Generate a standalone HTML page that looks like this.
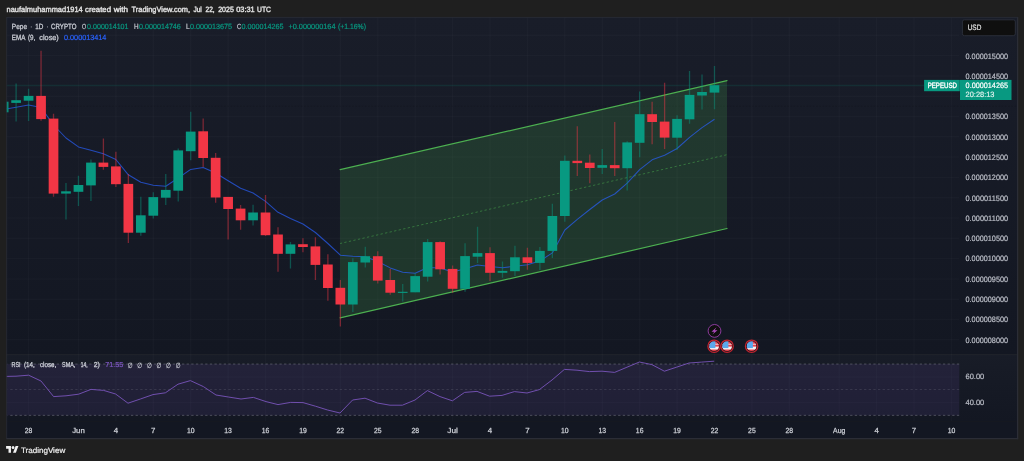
<!DOCTYPE html>
<html lang="en"><head><meta charset="utf-8"><title>Pepe 1D chart - TradingView</title>
<style>html,body{margin:0;padding:0;background:#1f1f1f;overflow:hidden}svg{display:block;filter:blur(0.5px)}</style>
</head><body>
<svg width="1024" height="461" viewBox="0 0 1024 461" font-family='"Liberation Sans", "DejaVu Sans", sans-serif' text-rendering="geometricPrecision">
<defs>
<linearGradient id="g1" x1="0" y1="0" x2="0" y2="1"><stop offset="0" stop-color="#191d29"/><stop offset="1" stop-color="#131722"/></linearGradient>
<linearGradient id="g2" x1="0" y1="0" x2="0" y2="1"><stop offset="0" stop-color="#181c27"/><stop offset="1" stop-color="#131722"/></linearGradient>
<clipPath id="plot"><rect x="6.5" y="17.2" width="952.8" height="337.5"/></clipPath>
<clipPath id="fc"><circle r="4.85"/></clipPath>
</defs>
<rect width="1024" height="461" fill="#1f1f1f"/>
<rect x="6.5" y="17.2" width="1011.0" height="337.5" fill="url(#g1)"/>
<rect x="6.5" y="354.7" width="1011.0" height="66.60000000000002" fill="url(#g2)"/>
<rect x="6.5" y="421.3" width="1011.0" height="17.0" fill="#131722"/>
<g stroke="#ffffff" stroke-opacity="0.021" stroke-width="1.5">
<line x1="28.58" y1="17.2" x2="28.58" y2="421.3"/>
<line x1="78.46" y1="17.2" x2="78.46" y2="421.3"/>
<line x1="115.88" y1="17.2" x2="115.88" y2="421.3"/>
<line x1="153.29" y1="17.2" x2="153.29" y2="421.3"/>
<line x1="190.70" y1="17.2" x2="190.70" y2="421.3"/>
<line x1="228.12" y1="17.2" x2="228.12" y2="421.3"/>
<line x1="265.53" y1="17.2" x2="265.53" y2="421.3"/>
<line x1="302.94" y1="17.2" x2="302.94" y2="421.3"/>
<line x1="340.35" y1="17.2" x2="340.35" y2="421.3"/>
<line x1="377.77" y1="17.2" x2="377.77" y2="421.3"/>
<line x1="415.18" y1="17.2" x2="415.18" y2="421.3"/>
<line x1="452.59" y1="17.2" x2="452.59" y2="421.3"/>
<line x1="490.01" y1="17.2" x2="490.01" y2="421.3"/>
<line x1="527.42" y1="17.2" x2="527.42" y2="421.3"/>
<line x1="564.83" y1="17.2" x2="564.83" y2="421.3"/>
<line x1="602.25" y1="17.2" x2="602.25" y2="421.3"/>
<line x1="639.66" y1="17.2" x2="639.66" y2="421.3"/>
<line x1="677.07" y1="17.2" x2="677.07" y2="421.3"/>
<line x1="714.49" y1="17.2" x2="714.49" y2="421.3"/>
<line x1="751.90" y1="17.2" x2="751.90" y2="421.3"/>
<line x1="789.31" y1="17.2" x2="789.31" y2="421.3"/>
<line x1="839.20" y1="17.2" x2="839.20" y2="421.3"/>
<line x1="876.61" y1="17.2" x2="876.61" y2="421.3"/>
<line x1="914.02" y1="17.2" x2="914.02" y2="421.3"/>
<line x1="951.43" y1="17.2" x2="951.43" y2="421.3"/>
<line x1="6.5" y1="35.30" x2="959.3" y2="35.30"/>
<line x1="6.5" y1="55.60" x2="959.3" y2="55.60"/>
<line x1="6.5" y1="75.90" x2="959.3" y2="75.90"/>
<line x1="6.5" y1="96.20" x2="959.3" y2="96.20"/>
<line x1="6.5" y1="116.50" x2="959.3" y2="116.50"/>
<line x1="6.5" y1="136.80" x2="959.3" y2="136.80"/>
<line x1="6.5" y1="157.10" x2="959.3" y2="157.10"/>
<line x1="6.5" y1="177.40" x2="959.3" y2="177.40"/>
<line x1="6.5" y1="197.70" x2="959.3" y2="197.70"/>
<line x1="6.5" y1="218.00" x2="959.3" y2="218.00"/>
<line x1="6.5" y1="238.30" x2="959.3" y2="238.30"/>
<line x1="6.5" y1="258.60" x2="959.3" y2="258.60"/>
<line x1="6.5" y1="278.90" x2="959.3" y2="278.90"/>
<line x1="6.5" y1="299.20" x2="959.3" y2="299.20"/>
<line x1="6.5" y1="319.50" x2="959.3" y2="319.50"/>
<line x1="6.5" y1="339.80" x2="959.3" y2="339.80"/>
<line x1="6.5" y1="376.90" x2="959.3" y2="376.90"/>
<line x1="6.5" y1="402.40" x2="959.3" y2="402.40"/>
</g>
<line x1="6.5" y1="106.2" x2="1017.5" y2="106.2" stroke="#000000" stroke-opacity="0.13" stroke-width="1" stroke-dasharray="1.6 1.6"/>
<line x1="6.5" y1="354.7" x2="1017.5" y2="354.7" stroke="#ffffff" stroke-opacity="0.045" stroke-width="1"/>
<g clip-path="url(#plot)">
<polygon points="340.1,169.7 727.0,80.7 727.0,228.5 340.1,317.9" fill="#4caf50" fill-opacity="0.2"/>
<line x1="340.1" y1="169.7" x2="727.0" y2="80.7" stroke="#4caf50" stroke-width="1.25" stroke-linecap="round"/>
<line x1="340.1" y1="317.9" x2="727.0" y2="228.5" stroke="#4caf50" stroke-width="1.25" stroke-linecap="round"/>
<line x1="340.1" y1="243.5" x2="727.0" y2="154.7" stroke="#4caf50" stroke-opacity="0.5" stroke-width="1" stroke-dasharray="2.32 2.32" stroke-dashoffset="0.3"/>
<line x1="6.5" y1="85.5" x2="924" y2="85.5" stroke="#089981" stroke-opacity="0.14" stroke-width="1.3"/>
<polyline points="3.64,109.50 16.11,107.30 28.58,104.90 41.05,107.50 53.52,125.00 65.99,138.00 78.46,146.90 90.94,150.30 103.41,153.70 115.88,159.50 128.35,174.80 140.82,182.30 153.29,185.20 165.76,186.30 178.23,178.00 190.70,169.40 203.17,167.50 215.64,173.00 228.12,180.70 240.59,188.20 253.06,193.00 265.53,201.40 278.00,212.30 290.47,218.50 302.94,224.00 315.41,232.50 327.88,243.50 340.35,255.20 352.83,256.30 365.30,256.80 377.77,261.50 390.24,267.90 402.71,272.20 415.18,273.20 427.65,267.50 440.12,268.00 452.59,272.00 465.06,268.70 477.54,265.00 490.01,266.50 502.48,267.70 514.95,266.30 527.42,264.80 539.89,261.00 552.36,252.90 564.83,230.00 577.30,219.30 589.78,209.50 602.25,200.00 614.72,194.00 627.19,183.20 639.66,169.60 652.13,159.80 664.60,155.30 677.07,148.50 689.54,137.30 702.01,127.60 714.49,119.30" fill="none" stroke="#2962ff" stroke-opacity="0.68" stroke-width="1.05" stroke-linejoin="round"/>
<line x1="3.64" y1="101.7" x2="3.64" y2="112.3" stroke="#089981" stroke-opacity="0.46" stroke-width="1.3"/>
<rect x="-1.21" y="101.7" width="9.7" height="10.60" fill="#089981"/>
<line x1="16.11" y1="83.4" x2="16.11" y2="121.6" stroke="#089981" stroke-opacity="0.46" stroke-width="1.3"/>
<rect x="11.26" y="100.2" width="9.7" height="2.70" fill="#089981"/>
<line x1="28.58" y1="88.8" x2="28.58" y2="121" stroke="#089981" stroke-opacity="0.46" stroke-width="1.3"/>
<rect x="23.73" y="95.9" width="9.7" height="4.80" fill="#089981"/>
<line x1="41.05" y1="50.7" x2="41.05" y2="120.7" stroke="#f23645" stroke-opacity="0.46" stroke-width="1.3"/>
<rect x="36.20" y="95.9" width="9.7" height="23.20" fill="#f23645"/>
<line x1="53.52" y1="113.8" x2="53.52" y2="196.7" stroke="#f23645" stroke-opacity="0.46" stroke-width="1.3"/>
<rect x="48.67" y="118.6" width="9.7" height="75.00" fill="#f23645"/>
<line x1="65.99" y1="183" x2="65.99" y2="219.6" stroke="#089981" stroke-opacity="0.46" stroke-width="1.3"/>
<rect x="61.14" y="191.3" width="9.7" height="2.30" fill="#089981"/>
<line x1="78.46" y1="175.7" x2="78.46" y2="205.9" stroke="#089981" stroke-opacity="0.46" stroke-width="1.3"/>
<rect x="73.61" y="185" width="9.7" height="6.80" fill="#089981"/>
<line x1="90.94" y1="159.6" x2="90.94" y2="201" stroke="#089981" stroke-opacity="0.46" stroke-width="1.3"/>
<rect x="86.09" y="162.6" width="9.7" height="22.80" fill="#089981"/>
<line x1="103.41" y1="138.5" x2="103.41" y2="169.8" stroke="#f23645" stroke-opacity="0.46" stroke-width="1.3"/>
<rect x="98.56" y="162.6" width="9.7" height="4.30" fill="#f23645"/>
<line x1="115.88" y1="151.8" x2="115.88" y2="186.9" stroke="#f23645" stroke-opacity="0.46" stroke-width="1.3"/>
<rect x="111.03" y="166.4" width="9.7" height="17.80" fill="#f23645"/>
<line x1="128.35" y1="174.1" x2="128.35" y2="243" stroke="#f23645" stroke-opacity="0.46" stroke-width="1.3"/>
<rect x="123.50" y="183.9" width="9.7" height="48.80" fill="#f23645"/>
<line x1="140.82" y1="196.7" x2="140.82" y2="235.8" stroke="#089981" stroke-opacity="0.46" stroke-width="1.3"/>
<rect x="135.97" y="215.3" width="9.7" height="17.40" fill="#089981"/>
<line x1="153.29" y1="192.2" x2="153.29" y2="218.6" stroke="#089981" stroke-opacity="0.46" stroke-width="1.3"/>
<rect x="148.44" y="197.1" width="9.7" height="18.60" fill="#089981"/>
<line x1="165.76" y1="174.1" x2="165.76" y2="205" stroke="#089981" stroke-opacity="0.46" stroke-width="1.3"/>
<rect x="160.91" y="189.9" width="9.7" height="7.80" fill="#089981"/>
<line x1="178.23" y1="148.4" x2="178.23" y2="201.4" stroke="#089981" stroke-opacity="0.46" stroke-width="1.3"/>
<rect x="173.38" y="150.4" width="9.7" height="40.30" fill="#089981"/>
<line x1="190.70" y1="111.7" x2="190.70" y2="160.2" stroke="#089981" stroke-opacity="0.46" stroke-width="1.3"/>
<rect x="185.85" y="131.6" width="9.7" height="19.60" fill="#089981"/>
<line x1="203.17" y1="118.6" x2="203.17" y2="167" stroke="#f23645" stroke-opacity="0.46" stroke-width="1.3"/>
<rect x="198.32" y="131.3" width="9.7" height="26.70" fill="#f23645"/>
<line x1="215.64" y1="152.9" x2="215.64" y2="202.7" stroke="#f23645" stroke-opacity="0.46" stroke-width="1.3"/>
<rect x="210.79" y="157.8" width="9.7" height="39.70" fill="#f23645"/>
<line x1="228.12" y1="196.9" x2="228.12" y2="239.5" stroke="#f23645" stroke-opacity="0.46" stroke-width="1.3"/>
<rect x="223.27" y="196.9" width="9.7" height="12.10" fill="#f23645"/>
<line x1="240.59" y1="205" x2="240.59" y2="229.8" stroke="#f23645" stroke-opacity="0.46" stroke-width="1.3"/>
<rect x="235.74" y="208.6" width="9.7" height="11.70" fill="#f23645"/>
<line x1="253.06" y1="204.7" x2="253.06" y2="225.6" stroke="#089981" stroke-opacity="0.46" stroke-width="1.3"/>
<rect x="248.21" y="212.5" width="9.7" height="7.80" fill="#089981"/>
<line x1="265.53" y1="194.9" x2="265.53" y2="236" stroke="#f23645" stroke-opacity="0.46" stroke-width="1.3"/>
<rect x="260.68" y="212.5" width="9.7" height="22.70" fill="#f23645"/>
<line x1="278.00" y1="227.2" x2="278.00" y2="271.8" stroke="#f23645" stroke-opacity="0.46" stroke-width="1.3"/>
<rect x="273.15" y="234.5" width="9.7" height="19.30" fill="#f23645"/>
<line x1="290.47" y1="242" x2="290.47" y2="268.4" stroke="#089981" stroke-opacity="0.46" stroke-width="1.3"/>
<rect x="285.62" y="244.4" width="9.7" height="9.40" fill="#089981"/>
<line x1="302.94" y1="238.2" x2="302.94" y2="252.2" stroke="#f23645" stroke-opacity="0.46" stroke-width="1.3"/>
<rect x="298.09" y="244.2" width="9.7" height="2.80" fill="#f23645"/>
<line x1="315.41" y1="237.2" x2="315.41" y2="280" stroke="#f23645" stroke-opacity="0.46" stroke-width="1.3"/>
<rect x="310.56" y="246.4" width="9.7" height="18.50" fill="#f23645"/>
<line x1="327.88" y1="254.2" x2="327.88" y2="300.7" stroke="#f23645" stroke-opacity="0.46" stroke-width="1.3"/>
<rect x="323.03" y="264.5" width="9.7" height="23.50" fill="#f23645"/>
<line x1="340.35" y1="280" x2="340.35" y2="326.5" stroke="#f23645" stroke-opacity="0.46" stroke-width="1.3"/>
<rect x="335.50" y="287.8" width="9.7" height="16.70" fill="#f23645"/>
<line x1="352.83" y1="258.2" x2="352.83" y2="311.9" stroke="#089981" stroke-opacity="0.46" stroke-width="1.3"/>
<rect x="347.98" y="262.1" width="9.7" height="42.40" fill="#089981"/>
<line x1="365.30" y1="246.8" x2="365.30" y2="267.4" stroke="#089981" stroke-opacity="0.46" stroke-width="1.3"/>
<rect x="360.45" y="256.2" width="9.7" height="6.30" fill="#089981"/>
<line x1="377.77" y1="251.2" x2="377.77" y2="283.4" stroke="#f23645" stroke-opacity="0.46" stroke-width="1.3"/>
<rect x="372.92" y="256.2" width="9.7" height="24.40" fill="#f23645"/>
<line x1="390.24" y1="268.7" x2="390.24" y2="294.7" stroke="#f23645" stroke-opacity="0.46" stroke-width="1.3"/>
<rect x="385.39" y="280" width="9.7" height="12.70" fill="#f23645"/>
<line x1="402.71" y1="283.9" x2="402.71" y2="301.5" stroke="#089981" stroke-opacity="0.46" stroke-width="1.3"/>
<rect x="397.86" y="291.8" width="9.7" height="1.10" fill="#089981"/>
<line x1="415.18" y1="273.2" x2="415.18" y2="292.3" stroke="#089981" stroke-opacity="0.46" stroke-width="1.3"/>
<rect x="410.33" y="276.1" width="9.7" height="16.20" fill="#089981"/>
<line x1="427.65" y1="239" x2="427.65" y2="281.4" stroke="#089981" stroke-opacity="0.46" stroke-width="1.3"/>
<rect x="422.80" y="242.1" width="9.7" height="34.60" fill="#089981"/>
<line x1="440.12" y1="241.3" x2="440.12" y2="274.6" stroke="#f23645" stroke-opacity="0.46" stroke-width="1.3"/>
<rect x="435.27" y="242.1" width="9.7" height="27.20" fill="#f23645"/>
<line x1="452.59" y1="265.4" x2="452.59" y2="292.7" stroke="#f23645" stroke-opacity="0.46" stroke-width="1.3"/>
<rect x="447.74" y="268.9" width="9.7" height="19.90" fill="#f23645"/>
<line x1="465.06" y1="243.2" x2="465.06" y2="291.8" stroke="#089981" stroke-opacity="0.46" stroke-width="1.3"/>
<rect x="460.21" y="256.1" width="9.7" height="32.70" fill="#089981"/>
<line x1="477.54" y1="226.7" x2="477.54" y2="263" stroke="#089981" stroke-opacity="0.46" stroke-width="1.3"/>
<rect x="472.69" y="253.1" width="9.7" height="3.60" fill="#089981"/>
<line x1="490.01" y1="247.2" x2="490.01" y2="281" stroke="#f23645" stroke-opacity="0.46" stroke-width="1.3"/>
<rect x="485.16" y="253.1" width="9.7" height="19.70" fill="#f23645"/>
<line x1="502.48" y1="261.5" x2="502.48" y2="277.7" stroke="#089981" stroke-opacity="0.46" stroke-width="1.3"/>
<rect x="497.63" y="270.9" width="9.7" height="1.90" fill="#089981"/>
<line x1="514.95" y1="245.8" x2="514.95" y2="276" stroke="#089981" stroke-opacity="0.46" stroke-width="1.3"/>
<rect x="510.10" y="257.3" width="9.7" height="13.90" fill="#089981"/>
<line x1="527.42" y1="247.7" x2="527.42" y2="269.8" stroke="#f23645" stroke-opacity="0.46" stroke-width="1.3"/>
<rect x="522.57" y="257.3" width="9.7" height="5.60" fill="#f23645"/>
<line x1="539.89" y1="247" x2="539.89" y2="270" stroke="#089981" stroke-opacity="0.46" stroke-width="1.3"/>
<rect x="535.04" y="250.9" width="9.7" height="12.00" fill="#089981"/>
<line x1="552.36" y1="203.7" x2="552.36" y2="258" stroke="#089981" stroke-opacity="0.46" stroke-width="1.3"/>
<rect x="547.51" y="216" width="9.7" height="34.90" fill="#089981"/>
<line x1="564.83" y1="155.5" x2="564.83" y2="221.8" stroke="#089981" stroke-opacity="0.46" stroke-width="1.3"/>
<rect x="559.98" y="160.8" width="9.7" height="55.20" fill="#089981"/>
<line x1="577.30" y1="126.2" x2="577.30" y2="176" stroke="#f23645" stroke-opacity="0.46" stroke-width="1.3"/>
<rect x="572.45" y="160.8" width="9.7" height="2.30" fill="#f23645"/>
<line x1="589.78" y1="154.5" x2="589.78" y2="183.2" stroke="#f23645" stroke-opacity="0.46" stroke-width="1.3"/>
<rect x="584.93" y="162.7" width="9.7" height="5.30" fill="#f23645"/>
<line x1="602.25" y1="149" x2="602.25" y2="173.9" stroke="#089981" stroke-opacity="0.46" stroke-width="1.3"/>
<rect x="597.40" y="165.1" width="9.7" height="2.70" fill="#089981"/>
<line x1="614.72" y1="122" x2="614.72" y2="176" stroke="#f23645" stroke-opacity="0.46" stroke-width="1.3"/>
<rect x="609.87" y="165.1" width="9.7" height="3.10" fill="#f23645"/>
<line x1="627.19" y1="141.3" x2="627.19" y2="190.5" stroke="#089981" stroke-opacity="0.46" stroke-width="1.3"/>
<rect x="622.34" y="142.4" width="9.7" height="25.80" fill="#089981"/>
<line x1="639.66" y1="91.6" x2="639.66" y2="157.3" stroke="#089981" stroke-opacity="0.46" stroke-width="1.3"/>
<rect x="634.81" y="114.2" width="9.7" height="28.60" fill="#089981"/>
<line x1="652.13" y1="101.8" x2="652.13" y2="144.2" stroke="#f23645" stroke-opacity="0.46" stroke-width="1.3"/>
<rect x="647.28" y="114.2" width="9.7" height="7.80" fill="#f23645"/>
<line x1="664.60" y1="82.8" x2="664.60" y2="149" stroke="#f23645" stroke-opacity="0.46" stroke-width="1.3"/>
<rect x="659.75" y="121.6" width="9.7" height="16.00" fill="#f23645"/>
<line x1="677.07" y1="115.2" x2="677.07" y2="150" stroke="#089981" stroke-opacity="0.46" stroke-width="1.3"/>
<rect x="672.22" y="118.9" width="9.7" height="18.80" fill="#089981"/>
<line x1="689.54" y1="71.1" x2="689.54" y2="123.8" stroke="#089981" stroke-opacity="0.46" stroke-width="1.3"/>
<rect x="684.69" y="94.9" width="9.7" height="24.40" fill="#089981"/>
<line x1="702.01" y1="74.4" x2="702.01" y2="109.6" stroke="#089981" stroke-opacity="0.46" stroke-width="1.3"/>
<rect x="697.16" y="92" width="9.7" height="3.50" fill="#089981"/>
<line x1="714.49" y1="66" x2="714.49" y2="109.2" stroke="#089981" stroke-opacity="0.46" stroke-width="1.3"/>
<rect x="709.63" y="85.2" width="9.7" height="7.40" fill="#089981"/>
</g>
<rect x="6.5" y="364.05" width="952.8" height="51.3" fill="#7e57c2" fill-opacity="0.12"/>
<line x1="7.7" y1="364.05" x2="959.3" y2="364.05" stroke="#a3a6af" stroke-opacity="0.42" stroke-width="0.9" stroke-dasharray="2.32 2.32" stroke-dashoffset="2.04"/>
<line x1="7.7" y1="389.5" x2="959.3" y2="389.5" stroke="#a3a6af" stroke-opacity="0.2" stroke-width="0.9" stroke-dasharray="2.32 2.32" stroke-dashoffset="2.04"/>
<line x1="7.7" y1="415.35" x2="959.3" y2="415.35" stroke="#a3a6af" stroke-opacity="0.42" stroke-width="0.9" stroke-dasharray="2.32 2.32" stroke-dashoffset="2.04"/>
<polyline points="6.6,376.4 16,376.2 28.6,375.2 41,381 53.6,396.6 66,395.8 78.6,394.2 91,389.4 103.6,390.4 115.6,394 128,403.2 140.4,399 153,394.6 165.4,392.8 178,384.2 190.4,380.6 203.4,386.6 216,395 228.4,397 241,399 253.4,397.4 266,401.6 278,404.6 290.6,402.4 303,402.6 315.4,406.2 327.6,410 340,413 352.6,400 365,398.2 377.4,403 390,405.2 402.4,405.2 415,400 427.4,390.6 440,396.6 452.4,400.8 464.6,392.4 477,391.4 489.6,396.2 502,395.4 514.4,391.6 527,393 539.4,389.6 552,380 564.4,369.4 577,370.2 589.4,371.6 602,371.2 614.6,372.4 627,367.2 639.4,362 651.8,364.6 664.4,371.2 676.8,367.1 689,363 701.6,362.1 714.2,361.2" fill="none" stroke="#7e57c2" stroke-opacity="0.85" stroke-width="1" stroke-linejoin="round"/>
<g transform="translate(714.1,346.2)"><circle r="6.2" fill="#1b161c" stroke="#c4242f" stroke-width="1.25"/><g clip-path="url(#fc)"><rect x="-5" y="-5" width="10" height="10" fill="#ea414e"/><rect x="-5" y="-2.5" width="10" height="1" fill="#f6dfe1"/><rect x="-5" y="0.4" width="10" height="2.9" fill="#f3f3f3"/><rect x="-5" y="-5" width="6.3" height="6.9" fill="#5aa9ec"/></g></g>
<g transform="translate(727.1,346.2)"><circle r="6.2" fill="#1b161c" stroke="#c4242f" stroke-width="1.25"/><g clip-path="url(#fc)"><rect x="-5" y="-5" width="10" height="10" fill="#ea414e"/><rect x="-5" y="-2.5" width="10" height="1" fill="#f6dfe1"/><rect x="-5" y="0.4" width="10" height="2.9" fill="#f3f3f3"/><rect x="-5" y="-5" width="6.3" height="6.9" fill="#5aa9ec"/></g></g>
<g transform="translate(751.6,346.2)"><circle r="6.2" fill="#1b161c" stroke="#c4242f" stroke-width="1.25"/><g clip-path="url(#fc)"><rect x="-5" y="-5" width="10" height="10" fill="#ea414e"/><rect x="-5" y="-2.5" width="10" height="1" fill="#f6dfe1"/><rect x="-5" y="0.4" width="10" height="2.9" fill="#f3f3f3"/><rect x="-5" y="-5" width="6.3" height="6.9" fill="#5aa9ec"/></g></g>
<g transform="translate(714.5,330.9)"><circle r="6.4" fill="#0f0f0f" stroke="#9a3fac" stroke-width="0.9"/><path d="M2.1,-3.7 L-3.0,0.75 L-0.2,0.75 L-2.1,3.7 L3.0,-0.75 L0.2,-0.75 Z" fill="#b04cc2"/></g>
<line x1="6.7" y1="17.2" x2="6.7" y2="439.2" stroke="#2c2f3a" stroke-width="0.7"/>
<line x1="6.5" y1="17.4" x2="1018.2" y2="17.4" stroke="#2c2f3a" stroke-width="0.7"/>
<line x1="1017.6" y1="17.2" x2="1017.6" y2="439.2" stroke="#2b2d36" stroke-width="1.3"/>
<line x1="6.5" y1="438.6" x2="1018.2" y2="438.6" stroke="#2b2d36" stroke-width="1.3"/>
<text y="12.30" font-size="7.7" fill="#dedede" stroke="#dedede" stroke-width="0.45" stroke-linejoin="round"><tspan x="6.60" textLength="76.10" lengthAdjust="spacingAndGlyphs">naufalmuhammad1914</tspan> <tspan x="85.00" textLength="26.00" lengthAdjust="spacingAndGlyphs">created</tspan> <tspan x="113.70" textLength="14.40" lengthAdjust="spacingAndGlyphs">with</tspan> <tspan x="131.60" textLength="58.50" lengthAdjust="spacingAndGlyphs">TradingView.com,</tspan> <tspan x="193.40" textLength="8.40" lengthAdjust="spacingAndGlyphs">Jul</tspan> <tspan x="205.50" textLength="9.10" lengthAdjust="spacingAndGlyphs">22,</tspan> <tspan x="218.20" textLength="15.60" lengthAdjust="spacingAndGlyphs">2025</tspan> <tspan x="236.20" textLength="18.50" lengthAdjust="spacingAndGlyphs">03:31</tspan> <tspan x="257.10" textLength="13.90" lengthAdjust="spacingAndGlyphs">UTC</tspan></text>
<text y="29.35" font-size="7.5" fill="#c9ccd4" stroke="#c9ccd4" stroke-width="0.3" stroke-linejoin="round"><tspan x="11.85" textLength="15.15" lengthAdjust="spacingAndGlyphs">Pepe</tspan> <tspan x="30.50" textLength="1.30" lengthAdjust="spacingAndGlyphs">·</tspan> <tspan x="35.30" textLength="8.10" lengthAdjust="spacingAndGlyphs">1D</tspan> <tspan x="46.90" textLength="1.30" lengthAdjust="spacingAndGlyphs">·</tspan> <tspan x="51.10" textLength="25.30" lengthAdjust="spacingAndGlyphs">CRYPTO</tspan></text>
<text x="82.00" y="29.35" font-size="7.5" fill="#c9ccd4" stroke="#c9ccd4" stroke-width="0.2" stroke-linejoin="round" textLength="4.10" lengthAdjust="spacingAndGlyphs">O</text>
<text x="87.10" y="29.35" font-size="7.5" fill="#089981" stroke="#089981" stroke-width="0.2" stroke-linejoin="round" textLength="41.40" lengthAdjust="spacingAndGlyphs">0.000014101</text>
<text x="134.10" y="29.35" font-size="7.5" fill="#c9ccd4" stroke="#c9ccd4" stroke-width="0.2" stroke-linejoin="round" textLength="4.60" lengthAdjust="spacingAndGlyphs">H</text>
<text x="139.10" y="29.35" font-size="7.5" fill="#089981" stroke="#089981" stroke-width="0.2" stroke-linejoin="round" textLength="41.70" lengthAdjust="spacingAndGlyphs">0.000014746</text>
<text x="186.00" y="29.35" font-size="7.5" fill="#c9ccd4" stroke="#c9ccd4" stroke-width="0.2" stroke-linejoin="round" textLength="3.70" lengthAdjust="spacingAndGlyphs">L</text>
<text x="190.00" y="29.35" font-size="7.5" fill="#089981" stroke="#089981" stroke-width="0.2" stroke-linejoin="round" textLength="42.10" lengthAdjust="spacingAndGlyphs">0.000013675</text>
<text x="236.90" y="29.35" font-size="7.5" fill="#c9ccd4" stroke="#c9ccd4" stroke-width="0.2" stroke-linejoin="round" textLength="4.10" lengthAdjust="spacingAndGlyphs">C</text>
<text x="241.40" y="29.35" font-size="7.5" fill="#089981" stroke="#089981" stroke-width="0.2" stroke-linejoin="round" textLength="42.10" lengthAdjust="spacingAndGlyphs">0.000014265</text>
<text x="288.50" y="29.35" font-size="7.5" fill="#089981" stroke="#089981" stroke-width="0.2" stroke-linejoin="round" textLength="47.00" lengthAdjust="spacingAndGlyphs">+0.000000164</text>
<text x="338.00" y="29.35" font-size="7.5" fill="#089981" stroke="#089981" stroke-width="0.2" stroke-linejoin="round" textLength="28.00" lengthAdjust="spacingAndGlyphs">(+1.16%)</text>
<text y="39.95" font-size="7.5" fill="#c9ccd4" stroke="#c9ccd4" stroke-width="0.3" stroke-linejoin="round"><tspan x="11.85" textLength="13.15" lengthAdjust="spacingAndGlyphs">EMA</tspan> <tspan x="28.00" textLength="7.30" lengthAdjust="spacingAndGlyphs">(9,</tspan> <tspan x="39.30" textLength="19.50" lengthAdjust="spacingAndGlyphs">close)</tspan></text>
<text x="64.00" y="39.95" font-size="7.5" fill="#2962ff" stroke="#2962ff" stroke-width="0.2" stroke-linejoin="round" textLength="42.40" lengthAdjust="spacingAndGlyphs">0.000013414</text>
<rect x="962.4" y="19.8" width="52.9" height="15.9" rx="2" fill="#0f0f0f" stroke="#2d313c" stroke-width="0.9"/>
<text x="967.70" y="30.00" font-size="7.8" fill="#e4e4e4" stroke="#e4e4e4" stroke-width="0.2" stroke-linejoin="round" textLength="13.60" lengthAdjust="spacingAndGlyphs">USD</text>
<text x="965.50" y="58.95" font-size="7.8" fill="#bcbfc8" stroke="#bcbfc8" stroke-width="0.2" stroke-linejoin="round" textLength="42.60" lengthAdjust="spacingAndGlyphs">0.000015000</text>
<text x="965.50" y="78.75" font-size="7.8" fill="#bcbfc8" stroke="#bcbfc8" stroke-width="0.2" stroke-linejoin="round" textLength="42.60" lengthAdjust="spacingAndGlyphs">0.000014500</text>
<text x="965.50" y="119.35" font-size="7.8" fill="#bcbfc8" stroke="#bcbfc8" stroke-width="0.2" stroke-linejoin="round" textLength="42.60" lengthAdjust="spacingAndGlyphs">0.000013500</text>
<text x="965.50" y="139.65" font-size="7.8" fill="#bcbfc8" stroke="#bcbfc8" stroke-width="0.2" stroke-linejoin="round" textLength="42.60" lengthAdjust="spacingAndGlyphs">0.000013000</text>
<text x="965.50" y="159.95" font-size="7.8" fill="#bcbfc8" stroke="#bcbfc8" stroke-width="0.2" stroke-linejoin="round" textLength="42.60" lengthAdjust="spacingAndGlyphs">0.000012500</text>
<text x="965.50" y="180.25" font-size="7.8" fill="#bcbfc8" stroke="#bcbfc8" stroke-width="0.2" stroke-linejoin="round" textLength="42.60" lengthAdjust="spacingAndGlyphs">0.000012000</text>
<text x="965.50" y="200.55" font-size="7.8" fill="#bcbfc8" stroke="#bcbfc8" stroke-width="0.2" stroke-linejoin="round" textLength="42.60" lengthAdjust="spacingAndGlyphs">0.000011500</text>
<text x="965.50" y="220.85" font-size="7.8" fill="#bcbfc8" stroke="#bcbfc8" stroke-width="0.2" stroke-linejoin="round" textLength="42.60" lengthAdjust="spacingAndGlyphs">0.000011000</text>
<text x="965.50" y="241.15" font-size="7.8" fill="#bcbfc8" stroke="#bcbfc8" stroke-width="0.2" stroke-linejoin="round" textLength="42.60" lengthAdjust="spacingAndGlyphs">0.000010500</text>
<text x="965.50" y="261.45" font-size="7.8" fill="#bcbfc8" stroke="#bcbfc8" stroke-width="0.2" stroke-linejoin="round" textLength="42.60" lengthAdjust="spacingAndGlyphs">0.000010000</text>
<text x="965.50" y="281.75" font-size="7.8" fill="#bcbfc8" stroke="#bcbfc8" stroke-width="0.2" stroke-linejoin="round" textLength="42.60" lengthAdjust="spacingAndGlyphs">0.000009500</text>
<text x="965.50" y="302.05" font-size="7.8" fill="#bcbfc8" stroke="#bcbfc8" stroke-width="0.2" stroke-linejoin="round" textLength="42.60" lengthAdjust="spacingAndGlyphs">0.000009000</text>
<text x="965.50" y="322.35" font-size="7.8" fill="#bcbfc8" stroke="#bcbfc8" stroke-width="0.2" stroke-linejoin="round" textLength="42.60" lengthAdjust="spacingAndGlyphs">0.000008500</text>
<text x="965.50" y="342.65" font-size="7.8" fill="#bcbfc8" stroke="#bcbfc8" stroke-width="0.2" stroke-linejoin="round" textLength="42.60" lengthAdjust="spacingAndGlyphs">0.000008000</text>
<rect x="924.1" y="79.9" width="35.7" height="11.3" fill="#089981"/>
<rect x="960" y="79.9" width="51.5" height="20.1" fill="#089981"/>
<text x="927.70" y="88.00" font-size="7.6" fill="#ffffff" stroke="#ffffff" stroke-width="0.4" stroke-linejoin="round" textLength="29.20" lengthAdjust="spacingAndGlyphs">PEPEUSD</text>
<text x="965.60" y="88.00" font-size="7.8" fill="#ffffff" stroke="#ffffff" stroke-width="0.2" stroke-linejoin="round" textLength="42.40" lengthAdjust="spacingAndGlyphs">0.000014265</text>
<text x="965.60" y="97.10" font-size="7.6" fill="#ffffff" stroke="#ffffff" stroke-width="0.2" stroke-linejoin="round" stroke-opacity="0.8" fill-opacity="0.8" textLength="28.90" lengthAdjust="spacingAndGlyphs">20:28:13</text>
<text y="367.10" font-size="7.2" fill="#c9ccd4" stroke="#c9ccd4" stroke-width="0.3" stroke-linejoin="round"><tspan x="11.60" textLength="9.00" lengthAdjust="spacingAndGlyphs">RSI</tspan> <tspan x="24.00" textLength="10.80" lengthAdjust="spacingAndGlyphs">(14,</tspan> <tspan x="40.00" textLength="16.30" lengthAdjust="spacingAndGlyphs">close,</tspan> <tspan x="62.10" textLength="13.20" lengthAdjust="spacingAndGlyphs">SMA,</tspan> <tspan x="80.70" textLength="6.80" lengthAdjust="spacingAndGlyphs">14,</tspan> <tspan x="93.70" textLength="6.20" lengthAdjust="spacingAndGlyphs">2)</tspan></text>
<text x="105.30" y="367.10" font-size="7.2" fill="#7e57c2" stroke="#7e57c2" stroke-width="0.2" stroke-linejoin="round" textLength="18.00" lengthAdjust="spacingAndGlyphs">71.55</text>
<text x="127.80" y="367.50" font-size="7.4" fill="#c9ccd4" stroke="#c9ccd4" stroke-width="0.2" stroke-linejoin="round" textLength="4.80" lengthAdjust="spacingAndGlyphs">∅</text>
<text x="137.30" y="367.50" font-size="7.4" fill="#c9ccd4" stroke="#c9ccd4" stroke-width="0.2" stroke-linejoin="round" textLength="4.80" lengthAdjust="spacingAndGlyphs">∅</text>
<text x="147.00" y="367.50" font-size="7.4" fill="#c9ccd4" stroke="#c9ccd4" stroke-width="0.2" stroke-linejoin="round" textLength="4.80" lengthAdjust="spacingAndGlyphs">∅</text>
<text x="156.60" y="367.50" font-size="7.4" fill="#c9ccd4" stroke="#c9ccd4" stroke-width="0.2" stroke-linejoin="round" textLength="4.80" lengthAdjust="spacingAndGlyphs">∅</text>
<text x="166.00" y="367.50" font-size="7.4" fill="#c9ccd4" stroke="#c9ccd4" stroke-width="0.2" stroke-linejoin="round" textLength="4.80" lengthAdjust="spacingAndGlyphs">∅</text>
<text x="175.80" y="367.50" font-size="7.4" fill="#c9ccd4" stroke="#c9ccd4" stroke-width="0.2" stroke-linejoin="round" textLength="4.80" lengthAdjust="spacingAndGlyphs">∅</text>
<text x="965.50" y="379.20" font-size="7.6" fill="#bcbfc8" stroke="#bcbfc8" stroke-width="0.2" stroke-linejoin="round" textLength="18.70" lengthAdjust="spacingAndGlyphs">60.00</text>
<text x="965.50" y="404.80" font-size="7.6" fill="#bcbfc8" stroke="#bcbfc8" stroke-width="0.2" stroke-linejoin="round" textLength="18.70" lengthAdjust="spacingAndGlyphs">40.00</text>
<text x="24.78" y="432.80" font-size="7.4" fill="#cdd0d7" stroke="#cdd0d7" stroke-width="0.25" stroke-linejoin="round" textLength="7.60" lengthAdjust="spacingAndGlyphs">28</text>
<text x="72.16" y="432.80" font-size="7.4" fill="#cdd0d7" stroke="#cdd0d7" stroke-width="0.25" stroke-linejoin="round" textLength="12.60" lengthAdjust="spacingAndGlyphs">Jun</text>
<text x="113.68" y="432.80" font-size="7.4" fill="#cdd0d7" stroke="#cdd0d7" stroke-width="0.25" stroke-linejoin="round" textLength="4.40" lengthAdjust="spacingAndGlyphs">4</text>
<text x="151.09" y="432.80" font-size="7.4" fill="#cdd0d7" stroke="#cdd0d7" stroke-width="0.25" stroke-linejoin="round" textLength="4.40" lengthAdjust="spacingAndGlyphs">7</text>
<text x="186.90" y="432.80" font-size="7.4" fill="#cdd0d7" stroke="#cdd0d7" stroke-width="0.25" stroke-linejoin="round" textLength="7.60" lengthAdjust="spacingAndGlyphs">10</text>
<text x="224.32" y="432.80" font-size="7.4" fill="#cdd0d7" stroke="#cdd0d7" stroke-width="0.25" stroke-linejoin="round" textLength="7.60" lengthAdjust="spacingAndGlyphs">13</text>
<text x="261.73" y="432.80" font-size="7.4" fill="#cdd0d7" stroke="#cdd0d7" stroke-width="0.25" stroke-linejoin="round" textLength="7.60" lengthAdjust="spacingAndGlyphs">16</text>
<text x="299.14" y="432.80" font-size="7.4" fill="#cdd0d7" stroke="#cdd0d7" stroke-width="0.25" stroke-linejoin="round" textLength="7.60" lengthAdjust="spacingAndGlyphs">19</text>
<text x="336.55" y="432.80" font-size="7.4" fill="#cdd0d7" stroke="#cdd0d7" stroke-width="0.25" stroke-linejoin="round" textLength="7.60" lengthAdjust="spacingAndGlyphs">22</text>
<text x="373.97" y="432.80" font-size="7.4" fill="#cdd0d7" stroke="#cdd0d7" stroke-width="0.25" stroke-linejoin="round" textLength="7.60" lengthAdjust="spacingAndGlyphs">25</text>
<text x="411.38" y="432.80" font-size="7.4" fill="#cdd0d7" stroke="#cdd0d7" stroke-width="0.25" stroke-linejoin="round" textLength="7.60" lengthAdjust="spacingAndGlyphs">28</text>
<text x="447.29" y="432.80" font-size="7.4" fill="#cdd0d7" stroke="#cdd0d7" stroke-width="0.25" stroke-linejoin="round" textLength="10.60" lengthAdjust="spacingAndGlyphs">Jul</text>
<text x="487.81" y="432.80" font-size="7.4" fill="#cdd0d7" stroke="#cdd0d7" stroke-width="0.25" stroke-linejoin="round" textLength="4.40" lengthAdjust="spacingAndGlyphs">4</text>
<text x="525.22" y="432.80" font-size="7.4" fill="#cdd0d7" stroke="#cdd0d7" stroke-width="0.25" stroke-linejoin="round" textLength="4.40" lengthAdjust="spacingAndGlyphs">7</text>
<text x="561.03" y="432.80" font-size="7.4" fill="#cdd0d7" stroke="#cdd0d7" stroke-width="0.25" stroke-linejoin="round" textLength="7.60" lengthAdjust="spacingAndGlyphs">10</text>
<text x="598.45" y="432.80" font-size="7.4" fill="#cdd0d7" stroke="#cdd0d7" stroke-width="0.25" stroke-linejoin="round" textLength="7.60" lengthAdjust="spacingAndGlyphs">13</text>
<text x="635.86" y="432.80" font-size="7.4" fill="#cdd0d7" stroke="#cdd0d7" stroke-width="0.25" stroke-linejoin="round" textLength="7.60" lengthAdjust="spacingAndGlyphs">16</text>
<text x="673.27" y="432.80" font-size="7.4" fill="#cdd0d7" stroke="#cdd0d7" stroke-width="0.25" stroke-linejoin="round" textLength="7.60" lengthAdjust="spacingAndGlyphs">19</text>
<text x="710.69" y="432.80" font-size="7.4" fill="#cdd0d7" stroke="#cdd0d7" stroke-width="0.25" stroke-linejoin="round" textLength="7.60" lengthAdjust="spacingAndGlyphs">22</text>
<text x="748.10" y="432.80" font-size="7.4" fill="#cdd0d7" stroke="#cdd0d7" stroke-width="0.25" stroke-linejoin="round" textLength="7.60" lengthAdjust="spacingAndGlyphs">25</text>
<text x="785.51" y="432.80" font-size="7.4" fill="#cdd0d7" stroke="#cdd0d7" stroke-width="0.25" stroke-linejoin="round" textLength="7.60" lengthAdjust="spacingAndGlyphs">28</text>
<text x="833.05" y="432.80" font-size="7.4" fill="#cdd0d7" stroke="#cdd0d7" stroke-width="0.25" stroke-linejoin="round" textLength="12.30" lengthAdjust="spacingAndGlyphs">Aug</text>
<text x="874.41" y="432.80" font-size="7.4" fill="#cdd0d7" stroke="#cdd0d7" stroke-width="0.25" stroke-linejoin="round" textLength="4.40" lengthAdjust="spacingAndGlyphs">4</text>
<text x="911.82" y="432.80" font-size="7.4" fill="#cdd0d7" stroke="#cdd0d7" stroke-width="0.25" stroke-linejoin="round" textLength="4.40" lengthAdjust="spacingAndGlyphs">7</text>
<text x="947.63" y="432.80" font-size="7.4" fill="#cdd0d7" stroke="#cdd0d7" stroke-width="0.25" stroke-linejoin="round" textLength="7.60" lengthAdjust="spacingAndGlyphs">10</text>
<g transform="translate(6.1,444.4) scale(0.347,0.385)" fill="#f2f2f2"><path d="M14 22H7V11H0V4h14v18z"/><circle cx="20" cy="8" r="4"/><path d="M28 22h-8l7.5-18h8L28 22z"/></g>
<text x="20.90" y="452.90" font-size="7.8" fill="#efefef" stroke="#efefef" stroke-width="0.2" stroke-linejoin="round" textLength="44.30" lengthAdjust="spacingAndGlyphs">TradingView</text>
</svg>
</body></html>
